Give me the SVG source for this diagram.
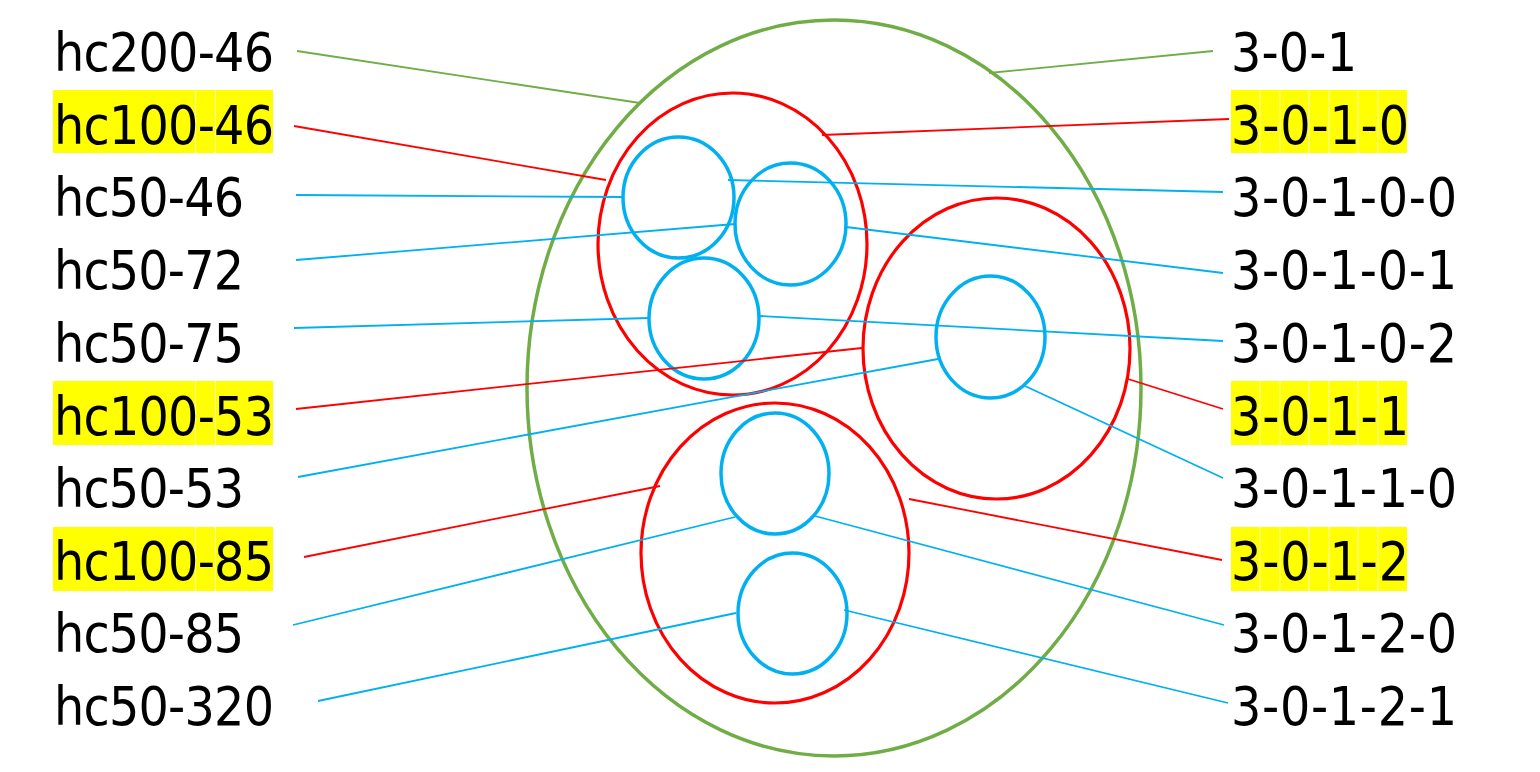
<svg xmlns="http://www.w3.org/2000/svg" width="1540" height="772" viewBox="0 0 1540 772">
<style>
  text { font-family: "DejaVu Sans Condensed", "DejaVu Sans", sans-serif; font-stretch: condensed; font-size: 53px; fill: #000; }
  .hl { fill: #FFFF00; }
  .seam { stroke: #FFFFFF; stroke-width: 1; opacity: 0.7; }
  .g { fill: none; stroke: #70AD47; stroke-width: 3.5; }
  .r { fill: none; stroke: #FF0000; stroke-width: 3.2; }
  .b { fill: none; stroke: #00B0F0; stroke-width: 3.5; }
  .cg { stroke: #70AD47; stroke-width: 1.8; fill: none; }
  .cr { stroke: #FF0000; stroke-width: 1.8; fill: none; }
  .cb { stroke: #00B0F0; stroke-width: 1.8; fill: none; }
</style>
<rect width="1540" height="772" fill="#FFFFFF"/>

<g id="shapes">
  <g id="ring-3-0-1"><ellipse class="g" cx="834" cy="388" rx="307" ry="368"/></g>
  <g id="ring-3-0-1-0"><ellipse class="r" cx="732.5" cy="244" rx="134.5" ry="151"/></g>
  <g id="ring-3-0-1-1"><ellipse class="r" cx="996.5" cy="348.5" rx="133.5" ry="150.5"/></g>
  <g id="ring-3-0-1-2"><ellipse class="r" cx="775" cy="553" rx="134" ry="150"/></g>
  <g id="circle-3-0-1-0-0"><ellipse class="b" cx="678.5" cy="197.5" rx="55.5" ry="60.5"/></g>
  <g id="circle-3-0-1-0-1"><ellipse class="b" cx="790.5" cy="224" rx="55.5" ry="61"/></g>
  <g id="circle-3-0-1-0-2"><ellipse class="b" cx="704" cy="318.5" rx="55" ry="60.5"/></g>
  <g id="circle-3-0-1-1-0"><ellipse class="b" cx="990.5" cy="337" rx="54.5" ry="61"/></g>
  <g id="circle-3-0-1-2-0"><ellipse class="b" cx="775" cy="473.5" rx="54" ry="60.5"/></g>
  <g id="circle-3-0-1-2-1"><ellipse class="b" cx="792.5" cy="613.5" rx="54.5" ry="60.5"/></g>
</g>

<g id="connectors">
  <line class="cg" x1="297" y1="51" x2="640" y2="103"/>
  <line class="cg" x1="989" y1="73" x2="1213" y2="51"/>
  <line class="cr" x1="294" y1="126" x2="606" y2="180"/>
  <line class="cr" x1="822" y1="135" x2="1229" y2="119"/>
  <line class="cb" x1="296" y1="195" x2="624" y2="197"/>
  <line class="cb" x1="728" y1="180" x2="1223" y2="192"/>
  <line class="cb" x1="296" y1="260" x2="735" y2="224"/>
  <line class="cb" x1="846" y1="227" x2="1223" y2="273"/>
  <line class="cb" x1="294" y1="328" x2="649" y2="318"/>
  <line class="cb" x1="759" y1="316" x2="1223" y2="341"/>
  <line class="cr" x1="296" y1="409" x2="862" y2="348"/>
  <line class="cr" x1="1128" y1="379" x2="1223" y2="409"/>
  <line class="cb" x1="298" y1="477" x2="938" y2="359"/>
  <line class="cb" x1="1025" y1="386" x2="1223" y2="478"/>
  <line class="cr" x1="304" y1="557" x2="660" y2="486"/>
  <line class="cr" x1="909" y1="499" x2="1222" y2="560"/>
  <line class="cb" x1="293" y1="625" x2="735" y2="517"/>
  <line class="cb" x1="815" y1="516" x2="1224" y2="625"/>
  <line class="cb" x1="318" y1="701" x2="736" y2="613"/>
  <line class="cb" x1="844" y1="610" x2="1228" y2="703"/>
</g>

<g id="label-hc200-46"><text x="54" y="71" textLength="220">hc200-46</text></g>
<g id="label-hc100-46">
  <rect class="hl" x="53" y="90" width="220" height="63"/>
  <line class="seam" x1="195.5" y1="90" x2="195.5" y2="153"/>
  <line class="seam" x1="215.5" y1="90" x2="215.5" y2="153"/>
  <text x="54" y="143.5" textLength="220">hc100-46</text>
</g>
<g id="label-hc50-46"><text x="54" y="216" textLength="190">hc50-46</text></g>
<g id="label-hc50-72"><text x="54" y="289" textLength="190">hc50-72</text></g>
<g id="label-hc50-75"><text x="54" y="361.5" textLength="190">hc50-75</text></g>
<g id="label-hc100-53">
  <rect class="hl" x="53" y="381" width="220" height="64"/>
  <line class="seam" x1="195.5" y1="381" x2="195.5" y2="445"/>
  <line class="seam" x1="215.5" y1="381" x2="215.5" y2="445"/>
  <text x="54" y="434.5" textLength="220">hc100-53</text>
</g>
<g id="label-hc50-53"><text x="54" y="507" textLength="190">hc50-53</text></g>
<g id="label-hc100-85">
  <rect class="hl" x="53" y="527" width="220" height="64"/>
  <line class="seam" x1="195.5" y1="527" x2="195.5" y2="591"/>
  <line class="seam" x1="215.5" y1="527" x2="215.5" y2="591"/>
  <text x="54" y="580" textLength="220">hc100-85</text>
</g>
<g id="label-hc50-85"><text x="54" y="652" textLength="190">hc50-85</text></g>
<g id="label-hc50-320"><text x="54" y="725" textLength="220">hc50-320</text></g>

<g id="label-3-0-1"><text x="1231" y="71" textLength="126">3-0-1</text></g>
<g id="label-3-0-1-0">
  <rect class="hl" x="1231" y="90" width="176" height="63"/>
  <line class="seam" x1="1260" y1="90" x2="1260" y2="153"/>
  <line class="seam" x1="1280" y1="90" x2="1280" y2="153"/>
  <line class="seam" x1="1309" y1="90" x2="1309" y2="153"/>
  <line class="seam" x1="1329" y1="90" x2="1329" y2="153"/>
  <line class="seam" x1="1358" y1="90" x2="1358" y2="153"/>
  <line class="seam" x1="1378" y1="90" x2="1378" y2="153"/>
  <text x="1231" y="143.5" textLength="178">3-0-1-0</text>
</g>
<g id="label-3-0-1-0-0"><text x="1231" y="216" textLength="226">3-0-1-0-0</text></g>
<g id="label-3-0-1-0-1"><text x="1231" y="289" textLength="226">3-0-1-0-1</text></g>
<g id="label-3-0-1-0-2"><text x="1231" y="361.5" textLength="226">3-0-1-0-2</text></g>
<g id="label-3-0-1-1">
  <rect class="hl" x="1231" y="381" width="176" height="64"/>
  <line class="seam" x1="1260" y1="381" x2="1260" y2="445"/>
  <line class="seam" x1="1280" y1="381" x2="1280" y2="445"/>
  <line class="seam" x1="1309" y1="381" x2="1309" y2="445"/>
  <line class="seam" x1="1329" y1="381" x2="1329" y2="445"/>
  <line class="seam" x1="1358" y1="381" x2="1358" y2="445"/>
  <line class="seam" x1="1378" y1="381" x2="1378" y2="445"/>
  <text x="1231" y="434.5" textLength="178">3-0-1-1</text>
</g>
<g id="label-3-0-1-1-0"><text x="1231" y="507" textLength="226">3-0-1-1-0</text></g>
<g id="label-3-0-1-2">
  <rect class="hl" x="1231" y="527" width="176" height="64"/>
  <line class="seam" x1="1260" y1="527" x2="1260" y2="591"/>
  <line class="seam" x1="1280" y1="527" x2="1280" y2="591"/>
  <line class="seam" x1="1309" y1="527" x2="1309" y2="591"/>
  <line class="seam" x1="1329" y1="527" x2="1329" y2="591"/>
  <line class="seam" x1="1358" y1="527" x2="1358" y2="591"/>
  <line class="seam" x1="1378" y1="527" x2="1378" y2="591"/>
  <text x="1231" y="580" textLength="178">3-0-1-2</text>
</g>
<g id="label-3-0-1-2-0"><text x="1231" y="652" textLength="226">3-0-1-2-0</text></g>
<g id="label-3-0-1-2-1"><text x="1231" y="725" textLength="226">3-0-1-2-1</text></g>
</svg>
